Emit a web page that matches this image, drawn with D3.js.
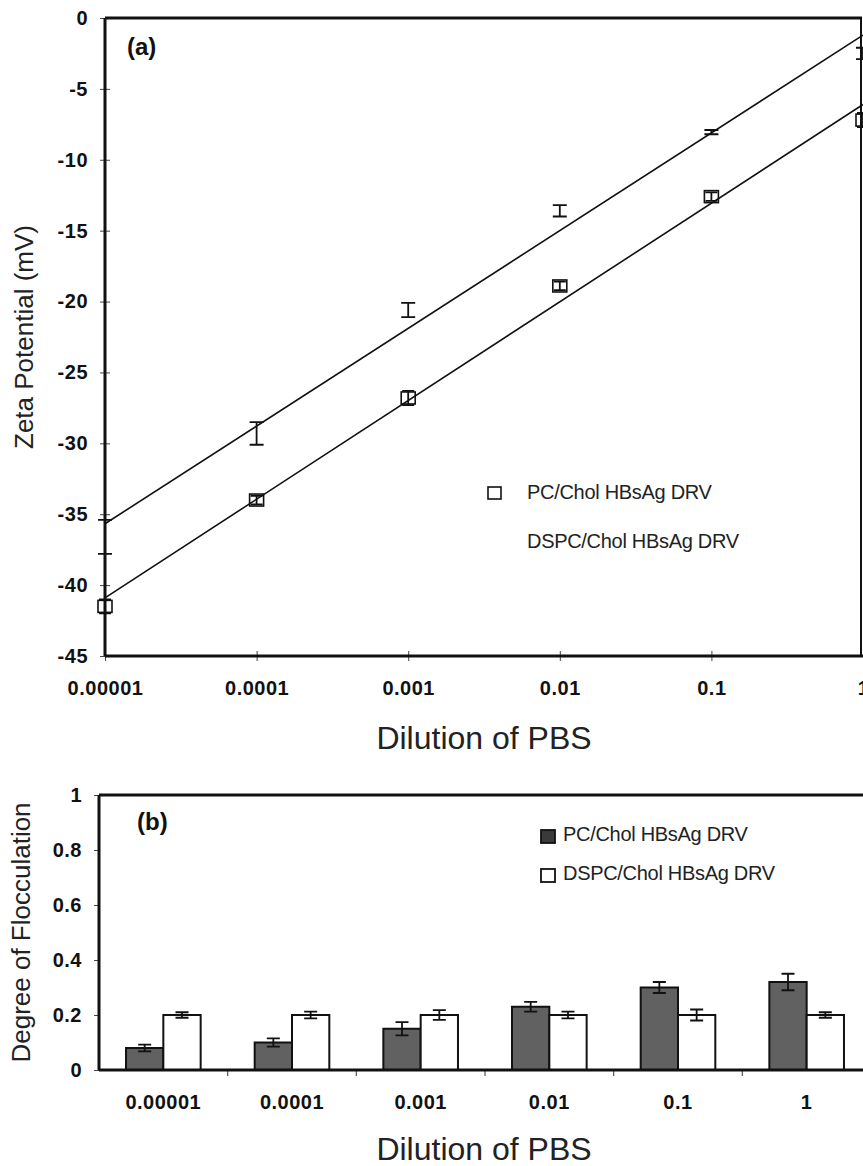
<!DOCTYPE html>
<html lang="en">
<head>
  <meta charset="UTF-8">
  <title>Zeta potential and flocculation vs PBS dilution</title>
  <style>
    body { margin: 0; background: white; }
    svg { display: block; font-family: "Liberation Sans", Arial, sans-serif; }
    .tick text { font-size: 20px; font-weight: bold; letter-spacing: 0.5px; fill: #111; }
    .axis-title { font-size: 32px; fill: #222; }
    .y-title { font-size: 26px; fill: #222; }
    .legend { font-size: 20px; fill: #222; letter-spacing: -0.3px; }
    .panel { font-size: 24px; font-weight: bold; fill: #111; }
  </style>
</head>
<body>
  <svg width="863" height="1166"></svg>
  <script src="https://d3js.org/d3.v7.min.js"></script>
  <script>

// dilution of PBS (shared by both panels)
const dilutions = [0.00001, 0.0001, 0.001, 0.01, 0.1, 1];
const dilutionLabels = ["0.00001", "0.0001", "0.001", "0.01", "0.1", "1"];

// (a) zeta potential, mV
const pcZeta = [-41.5, -34.0, -26.8, -18.9, -12.6, -7.2];
const pcZetaErr = [0.5, 0.3, 0.5, 0.3, 0.3, 0.5];
const dspcZeta = [-36.6, -29.3, -20.6, -13.6, -8.05, -2.5];
const dspcZetaErr = [1.2, 0.8, 0.5, 0.4, 0.15, 0.4];
const zetaTicks = [0, -5, -10, -15, -20, -25, -30, -35, -40, -45];

// (b) degree of flocculation
const pcFloc = [0.08, 0.10, 0.15, 0.23, 0.30, 0.32];
const pcFlocErr = [0.012, 0.015, 0.024, 0.018, 0.02, 0.03];
const dspcFloc = [0.20, 0.20, 0.20, 0.20, 0.20, 0.20];
const dspcFlocErr = [0.01, 0.012, 0.018, 0.012, 0.02, 0.01];
const flocTicks = [0, 0.2, 0.4, 0.6, 0.8, 1];

const seriesNames = ["PC/Chol HBsAg DRV", "DSPC/Chol HBsAg DRV"];

const svg = d3.select("svg");

// ---------- panel (a) ----------
const a = {left: 105, right: 863, top: 18, bottom: 656};

const xA = d3.scaleLog().domain([0.00001, 1]).range([a.left, a.right]);
const yA = d3.scaleLinear().domain([-45, 0]).range([a.bottom, a.top]);

// least squares line in log10(x)
function fit(xs, ys) {
  const lx = xs.map(Math.log10);
  const mx = d3.mean(lx), my = d3.mean(ys);
  const sxy = d3.sum(lx, (v, i) => (v - mx) * (ys[i] - my));
  const sxx = d3.sum(lx, v => (v - mx) * (v - mx));
  const m = sxy / sxx;
  return v => my + m * (Math.log10(v) - mx);
}

const gA = svg.append("g");

const yAxisA = gA.append("g")
  .attr("transform", `translate(${a.left},0)`)
  .call(d3.axisLeft(yA).tickValues(zetaTicks).tickSize(5).tickPadding(12).tickFormat(d => String(d)));
yAxisA.select(".domain").remove();
yAxisA.selectAll(".tick line").attr("x1", -5).attr("x2", 5).attr("stroke", "#444");

const xAxisA = gA.append("g")
  .attr("transform", `translate(0,${a.bottom})`)
  .call(d3.axisBottom(xA).tickValues(dilutions).tickSize(5).tickPadding(20).tickFormat((d, i) => dilutionLabels[i]));
xAxisA.select(".domain").remove();
xAxisA.selectAll(".tick line").attr("y1", -5).attr("y2", 5).attr("stroke", "#444");

// frame
gA.append("line").attr("x1", a.left).attr("x2", 862).attr("y1", a.top).attr("y2", a.top)
  .attr("stroke", "#111").attr("stroke-width", 3);
gA.append("line").attr("x1", a.left).attr("x2", a.left).attr("y1", a.top).attr("y2", a.bottom)
  .attr("stroke", "#111").attr("stroke-width", 3);
gA.append("line").attr("x1", a.left).attr("x2", 863).attr("y1", a.bottom).attr("y2", a.bottom)
  .attr("stroke", "#111").attr("stroke-width", 3);
gA.append("line").attr("x1", 861).attr("x2", 861).attr("y1", a.top).attr("y2", a.bottom)
  .attr("stroke", "#111").attr("stroke-width", 2);

// trend lines
[pcZeta, dspcZeta].forEach(ys => {
  const f = fit(dilutions, ys);
  const ends = [0.00001, 1];
  gA.append("path")
    .attr("d", d3.line().x(d => xA(d)).y(d => yA(f(d)))(ends))
    .attr("fill", "none").attr("stroke", "#111").attr("stroke-width", 1.6);
});

function errBars(g, xs, ys, es, xf, yf, cap) {
  g.selectAll(null).data(xs).join("path")
    .attr("d", (d, i) => {
      const x = xf(d, i), y0 = yf(ys[i] - es[i]), y1 = yf(ys[i] + es[i]);
      return `M${x},${y0}V${y1}M${x - cap / 2},${y0}H${x + cap / 2}M${x - cap / 2},${y1}H${x + cap / 2}`;
    })
    .attr("fill", "none").attr("stroke", "#111").attr("stroke-width", 1.8);
}

errBars(gA, dilutions, dspcZeta, dspcZetaErr, d => xA(d), yA, 14);
errBars(gA, dilutions, pcZeta, pcZetaErr, d => xA(d), yA, 12);

gA.selectAll(".pc-marker").data(dilutions).join("rect")
  .attr("class", "pc-marker")
  .attr("x", d => xA(d) - 7).attr("y", (d, i) => yA(pcZeta[i]) - 6)
  .attr("width", 14).attr("height", 12)
  .attr("fill", "none").attr("stroke", "#111").attr("stroke-width", 1.6);

gA.append("text").attr("class", "panel").attr("x", 127).attr("y", 55).text("(a)");

// legend (a)
gA.append("rect").attr("x", 488).attr("y", 487).attr("width", 13).attr("height", 12)
  .attr("fill", "none").attr("stroke", "#111").attr("stroke-width", 1.6);
gA.append("text").attr("class", "legend").attr("x", 527).attr("y", 499).text(seriesNames[0]);
gA.append("text").attr("class", "legend").attr("x", 527).attr("y", 548).text(seriesNames[1]);

gA.append("text").attr("class", "axis-title").attr("text-anchor", "middle")
  .attr("x", 484).attr("y", 749).text("Dilution of PBS");
gA.append("text").attr("class", "y-title").attr("text-anchor", "middle")
  .attr("transform", `translate(33,${(a.top + a.bottom) / 2}) rotate(-90)`)
  .text("Zeta Potential (mV)");

// ---------- panel (b) ----------
const b = {left: 99, right: 871, top: 795, bottom: 1070};

const xB = d3.scaleBand().domain(dilutionLabels).range([b.left, b.right]).paddingInner(0).paddingOuter(0);
const yB = d3.scaleLinear().domain([0, 1]).range([b.bottom, b.top]);
const barW = xB.bandwidth() * 0.29;

const gB = svg.append("g");

const yAxisB = gB.append("g")
  .attr("transform", `translate(${b.left},0)`)
  .call(d3.axisLeft(yB).tickValues(flocTicks).tickSize(5).tickPadding(12).tickFormat(d3.format("~g")));
yAxisB.select(".domain").remove();
yAxisB.selectAll(".tick line").attr("stroke", "#444");

const xAxisB = gB.append("g")
  .attr("transform", `translate(0,${b.bottom})`)
  .call(d3.axisBottom(xB).tickSize(0).tickPadding(25));
xAxisB.select(".domain").remove();

// category separators
gB.selectAll(".sep").data(dilutionLabels.slice(1)).join("line")
  .attr("class", "sep")
  .attr("x1", d => xB(d)).attr("x2", d => xB(d))
  .attr("y1", b.bottom).attr("y2", b.bottom + 6)
  .attr("stroke", "#555").attr("stroke-width", 1.2);

// bars
const barFill = ["#616161", "#ffffff"];
[[pcFloc, pcFlocErr], [dspcFloc, dspcFlocErr]].forEach(([vals, errs], s) => {
  const bx = (d, i) => xB(dilutionLabels[i]) + xB.bandwidth() / 2 - barW + s * barW;
  gB.selectAll(null).data(vals).join("rect")
    .attr("x", (d, i) => bx(d, i)).attr("y", d => yB(d))
    .attr("width", barW).attr("height", d => yB(0) - yB(d))
    .attr("fill", barFill[s]).attr("stroke", "#111").attr("stroke-width", 2);
  errBars(gB, vals, vals, errs, (d, i) => bx(d, i) + barW / 2, yB, 13);
});

// frame
gB.append("line").attr("x1", b.left).attr("x2", 863).attr("y1", b.top).attr("y2", b.top)
  .attr("stroke", "#111").attr("stroke-width", 3);
gB.append("line").attr("x1", b.left).attr("x2", b.left).attr("y1", b.top).attr("y2", b.bottom)
  .attr("stroke", "#111").attr("stroke-width", 3);
gB.append("line").attr("x1", b.left).attr("x2", 863).attr("y1", b.bottom).attr("y2", b.bottom)
  .attr("stroke", "#111").attr("stroke-width", 3);

gB.append("text").attr("class", "panel").attr("x", 137).attr("y", 830).text("(b)");

// legend (b)
seriesNames.forEach((name, s) => {
  const y = 841 + s * 39;
  gB.append("rect").attr("x", 541).attr("y", y - 11).attr("width", 14).attr("height", 13)
    .attr("fill", s === 0 ? "#3a3a3a" : "#fff").attr("stroke", "#111").attr("stroke-width", 1.8);
  gB.append("text").attr("class", "legend").attr("x", 563).attr("y", y).text(name);
});

gB.append("text").attr("class", "axis-title").attr("text-anchor", "middle")
  .attr("x", 484).attr("y", 1160).text("Dilution of PBS");
gB.append("text").attr("class", "y-title").attr("text-anchor", "middle")
  .attr("transform", `translate(30,${(b.top + b.bottom) / 2}) rotate(-90)`)
  .text("Degree of Flocculation");

  </script>
</body>
</html>
